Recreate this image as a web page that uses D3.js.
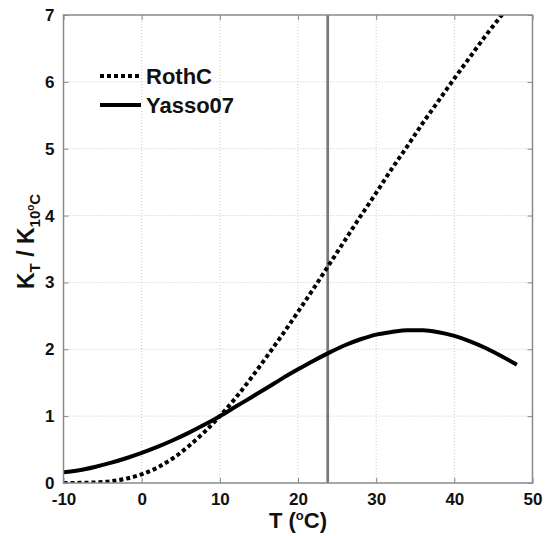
<!DOCTYPE html>
<html>
<head>
<meta charset="utf-8">
<script src="https://cdn.jsdelivr.net/npm/d3@7"></script>
<style>
  body { margin: 0; background: #fff; }
  svg text { font-family: "Liberation Sans", Arial, sans-serif; font-weight: bold; fill: #111; }
</style>
</head>
<body>
<svg id="chart" width="545" height="536"></svg>
<script>
// temperatures (deg C) at which the curves were read
const temps = [-10, -8, -6, -4, -2, 0, 2, 4, 6, 8, 10, 12, 14, 16, 18, 20, 22, 24, 26, 28, 30, 32, 34, 36, 38, 40, 42, 44, 46, 48];
// RothC rate modifier relative to 10 deg C (dashed)
const rothc = [0.0, 0.002, 0.008, 0.026, 0.065, 0.13, 0.23, 0.37, 0.55, 0.76, 1.0, 1.27, 1.57, 1.89, 2.22, 2.56, 2.91, 3.27, 3.63, 3.99, 4.34, 4.70, 5.04, 5.39, 5.72, 6.05, 6.37, 6.69, 6.99, 7.29];
// Yasso07 rate modifier relative to 10 deg C (solid)
const yasso = [0.16, 0.19, 0.24, 0.30, 0.37, 0.45, 0.54, 0.64, 0.75, 0.87, 1.0, 1.14, 1.28, 1.42, 1.565, 1.70, 1.83, 1.95, 2.06, 2.15, 2.22, 2.26, 2.285, 2.285, 2.255, 2.20, 2.12, 2.02, 1.90, 1.77];
const xTicks = [-10, 0, 10, 20, 30, 40, 50];
const yTicks = [0, 1, 2, 3, 4, 5, 6, 7];
const markerT = 23.8; // vertical reference line

const svg = d3.select('#chart');
const margin = {top: 15, right: 12.5, bottom: 53, left: 63.5};
const width = 545 - margin.left - margin.right;
const height = 536 - margin.top - margin.bottom;

const x = d3.scaleLinear().domain([-10, 50]).range([0, width]);
const y = d3.scaleLinear().domain([0, 7]).range([height, 0]);

const g = svg.append('g').attr('transform', `translate(${margin.left},${margin.top})`);

svg.append('defs').append('clipPath').attr('id', 'plot-clip')
  .append('rect').attr('width', width).attr('height', height);

// grid
g.append('g').selectAll('line').data(xTicks.slice(1, -1)).join('line')
  .attr('x1', d => x(d)).attr('x2', d => x(d)).attr('y1', 0).attr('y2', height)
  .attr('stroke', '#c8c8c8').attr('stroke-width', 1).attr('stroke-dasharray', '1,2');
g.append('g').selectAll('line').data(yTicks.slice(1, -1)).join('line')
  .attr('x1', 0).attr('x2', width).attr('y1', d => y(d)).attr('y2', d => y(d))
  .attr('stroke', '#c8c8c8').attr('stroke-width', 1).attr('stroke-dasharray', '1,2');

// vertical reference line
g.append('line')
  .attr('x1', x(markerT)).attr('x2', x(markerT)).attr('y1', 0).attr('y2', height)
  .attr('stroke', '#777').attr('stroke-width', 2.7);

const line = d3.line().x(d => x(d[0])).y(d => y(d[1])).curve(d3.curveMonotoneX);
const plot = g.append('g').attr('clip-path', 'url(#plot-clip)');
plot.append('path').datum(temps.map((t, i) => [t, rothc[i]]))
  .attr('d', line).attr('fill', 'none').attr('stroke', '#000')
  .attr('stroke-width', 4).attr('stroke-dasharray', '4,3');
plot.append('path').datum(temps.map((t, i) => [t, yasso[i]]))
  .attr('d', line).attr('fill', 'none').attr('stroke', '#000')
  .attr('stroke-width', 4);

// axes (inward ticks, labels bold)
const axisStyle = sel => {
  sel.select('.domain').remove();
  sel.selectAll('.tick line').attr('stroke', '#888');
  sel.selectAll('.tick text').attr('font-size', 17).attr('fill', '#111');
};
const plain = d => String(d);
g.append('g').attr('transform', `translate(0,${height})`)
  .call(d3.axisBottom(x).tickValues(xTicks).tickSize(-5).tickPadding(10).tickFormat(plain))
  .call(axisStyle);
g.append('g')
  .call(d3.axisLeft(y).tickValues(yTicks).tickSize(-5).tickPadding(9).tickFormat(plain))
  .call(axisStyle);
g.append('g')
  .call(d3.axisTop(x).tickValues(xTicks).tickSize(-5).tickFormat(''))
  .call(axisStyle);
g.append('g').attr('transform', `translate(${width},0)`)
  .call(d3.axisRight(y).tickValues(yTicks).tickSize(-5).tickFormat(''))
  .call(axisStyle);

// box
g.append('rect').attr('width', width).attr('height', height)
  .attr('fill', 'none').attr('stroke', '#8a8a8a').attr('stroke-width', 1.5);

// x axis title
const xt = svg.append('text')
  .attr('x', margin.left + width / 2).attr('y', 528)
  .attr('text-anchor', 'middle').attr('font-size', 22);
xt.append('tspan').text('T (');
xt.append('tspan').attr('font-size', 13).attr('dy', -8).text('o');
xt.append('tspan').attr('dy', 8).text('C)');

// y axis title
const yt = svg.append('text')
  .attr('transform', 'translate(34,289) rotate(-90)')
  .attr('font-size', 23);
yt.append('tspan').text('K');
yt.append('tspan').attr('font-size', 15).attr('dy', 6).text('T');
yt.append('tspan').attr('dy', -6).text(' / K');
yt.append('tspan').attr('font-size', 15).attr('dy', 6).text('10');
yt.append('tspan').attr('font-size', 10).attr('dy', -6).text('o');
yt.append('tspan').attr('font-size', 15).attr('dy', 6).text('C');

// legend
const legend = svg.append('g');
const legendItems = [
  {name: 'RothC', dash: '4,3', y: 76},
  {name: 'Yasso07', dash: null, y: 105}
];
legendItems.forEach(item => {
  legend.append('line')
    .attr('x1', 100).attr('x2', 141).attr('y1', item.y).attr('y2', item.y)
    .attr('stroke', '#000').attr('stroke-width', 4)
    .attr('stroke-dasharray', item.dash);
  legend.append('text')
    .attr('x', 146).attr('y', item.y + 8)
    .attr('font-size', 22).text(item.name);
});
</script>
</body>
</html>
